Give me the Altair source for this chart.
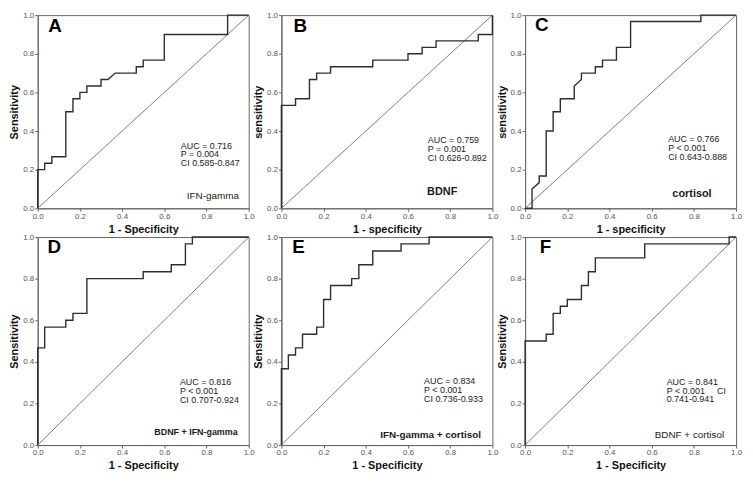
import altair as alt
import pandas as pd

FONT = "Liberation Sans"

# ---------------- data ----------------
letters = ["A", "B", "C", "D", "E", "F"]
x_titles = ["1 - Specificity", "1 - specificity", "1 - specificity",
            "1 - Specificity", "1 - Specificity", "1 - Specificity"]
y_titles = ["Sensitivity", "sensitivity", "sensitivity",
            "Sensitivity", "Sensitivity", "Sensitivity"]
markers = ["IFN-gamma", "BDNF", "cortisol",
           "BDNF + IFN-gamma", "IFN-gamma + cortisol", "BDNF + cortisol"]
auc_text = ["AUC = 0.716", "AUC = 0.759", "AUC = 0.766",
            "AUC = 0.816", "AUC = 0.834", "AUC = 0.841"]
p_text = ["P = 0.004", "P = 0.001", "P < 0.001",
          "P < 0.001", "P < 0.001", "P < 0.001"]
ci_text = ["CI 0.585-0.847", "CI 0.626-0.892", "CI 0.643-0.888",
           "CI 0.707-0.924", "CI 0.736-0.933", "0.741-0.941"]

A_fpr = [0, 0, 0.033, 0.033, 0.067, 0.067, 0.133, 0.133, 0.167, 0.167, 0.2, 0.2, 0.233, 0.233,
         0.3, 0.3, 0.333, 0.367, 0.467, 0.467, 0.5, 0.5, 0.6, 0.6, 0.9, 0.9, 1.0]
A_tpr = [0, 0.2, 0.2, 0.233, 0.233, 0.267, 0.267, 0.5, 0.5, 0.567, 0.567, 0.6, 0.6, 0.633,
         0.633, 0.667, 0.667, 0.7, 0.7, 0.733, 0.733, 0.767, 0.767, 0.9, 0.9, 1.0, 1.0]

B_fpr = [0, 0, 0.067, 0.067, 0.133, 0.133, 0.167, 0.167, 0.233, 0.233, 0.433, 0.433,
         0.6, 0.6, 0.667, 0.667, 0.733, 0.733, 0.933, 0.933, 1.0, 1.0]
B_tpr = [0, 0.533, 0.533, 0.567, 0.567, 0.667, 0.667, 0.7, 0.7, 0.733, 0.733, 0.767,
         0.767, 0.8, 0.8, 0.833, 0.833, 0.867, 0.867, 0.9, 0.9, 1.0]

C_fpr = [0, 0.033, 0.033, 0.067, 0.067, 0.1, 0.1, 0.133, 0.133, 0.167, 0.167, 0.233, 0.233,
         0.267, 0.267, 0.333, 0.333, 0.367, 0.367, 0.433, 0.433, 0.5, 0.5, 0.833, 0.833, 1.0]
C_tpr = [0, 0, 0.1, 0.133, 0.167, 0.167, 0.4, 0.4, 0.5, 0.5, 0.567, 0.567, 0.633,
         0.667, 0.7, 0.7, 0.733, 0.733, 0.767, 0.767, 0.833, 0.833, 0.967, 0.967, 1.0, 1.0]

D_fpr = [0, 0, 0.033, 0.033, 0.133, 0.133, 0.167, 0.167, 0.233, 0.233, 0.5, 0.5,
         0.633, 0.633, 0.7, 0.7, 0.733, 0.733, 1.0]
D_tpr = [0, 0.467, 0.467, 0.567, 0.567, 0.6, 0.6, 0.633, 0.633, 0.8, 0.8, 0.833,
         0.833, 0.867, 0.867, 0.967, 0.967, 1.0, 1.0]

E_fpr = [0, 0, 0.033, 0.033, 0.067, 0.067, 0.1, 0.1, 0.167, 0.167, 0.2, 0.2, 0.233, 0.233,
         0.333, 0.333, 0.367, 0.367, 0.433, 0.433, 0.567, 0.567, 0.7, 0.7, 1.0]
E_tpr = [0, 0.367, 0.367, 0.433, 0.433, 0.467, 0.467, 0.533, 0.533, 0.567, 0.567, 0.7, 0.7,
         0.767, 0.767, 0.8, 0.8, 0.867, 0.867, 0.933, 0.933, 0.967, 0.967, 1.0, 1.0]

F_fpr = [0, 0, 0.1, 0.1, 0.133, 0.133, 0.167, 0.167, 0.2, 0.2, 0.267, 0.267, 0.3, 0.3,
         0.333, 0.333, 0.567, 0.567, 0.967, 0.967, 1.0]
F_tpr = [0, 0.5, 0.5, 0.533, 0.533, 0.633, 0.633, 0.667, 0.667, 0.7, 0.7, 0.767, 0.767,
         0.833, 0.833, 0.9, 0.9, 0.967, 0.967, 1.0, 1.0]

fprs = [A_fpr, B_fpr, C_fpr, D_fpr, E_fpr, F_fpr]
tprs = [A_tpr, B_tpr, C_tpr, D_tpr, E_tpr, F_tpr]

# ---------------- layout / style (positions in data units) ----------------
W = 213
H = [195, 195, 195, 210, 210, 210]
letter_pos = [(0.05, 0.943), (0.057, 0.943), (0.047, 0.95),
              (0.046, 0.951), (0.051, 0.951), (0.069, 0.95)]
stat_pos = [(0.678, 0.325), (0.694, 0.355), (0.678, 0.359),
            (0.674, 0.301), (0.676, 0.308), (0.671, 0.305)]
marker_pos = [(0.83, 0.062), (0.762, 0.085), (0.791, 0.074),
              (0.75, 0.061), (0.707, 0.05), (0.779, 0.049)]
marker_size = [10, 11, 11, 9, 10, 10]
marker_weight = ["normal", "bold", "bold", "bold", "bold", "normal"]
TICKS = [0, 0.2, 0.4, 0.6, 0.8, 1.0]
STAT_FS = 9
LINE_PX = 9.0


def xenc(field, i):
    return alt.X(f"{field}:Q", scale=alt.Scale(domain=[0, 1], nice=False, zero=False),
                 axis=alt.Axis(title=x_titles[i], values=TICKS, format=".1f"))


def yenc(field, i):
    return alt.Y(f"{field}:Q", scale=alt.Scale(domain=[0, 1], nice=False, zero=False),
                 axis=alt.Axis(title=y_titles[i], values=TICKS, format=".1f"))


def panel(i):
    df = pd.DataFrame({"fpr": fprs[i], "tpr": tprs[i], "k": list(range(len(fprs[i])))})
    diag_df = pd.DataFrame({"fpr": [0, 1], "tpr": [0, 1]})
    diag = alt.Chart(diag_df).mark_line(color="#808080", strokeWidth=1).encode(
        x=xenc("fpr", i), y=yenc("tpr", i))
    curve = alt.Chart(df).mark_line(color="#2e2e2e", strokeWidth=1.4).encode(
        x=xenc("fpr", i), y=yenc("tpr", i), order="k:Q")

    step = LINE_PX / H[i]
    sx, sy = stat_pos[i]
    stats_df = pd.DataFrame({"fpr": [sx, sx, sx], "tpr": [sy, sy - step, sy - 2 * step],
                             "t": [auc_text[i], p_text[i], ci_text[i]]})
    stats = alt.Chart(stats_df).mark_text(align="left", baseline="middle", fontSize=STAT_FS,
                                          font=FONT, color="#1a1a1a").encode(
        x=xenc("fpr", i), y=yenc("tpr", i), text="t:N")

    mx, my = marker_pos[i]
    mk_df = pd.DataFrame({"fpr": [mx], "tpr": [my], "t": [markers[i]]})
    mk = alt.Chart(mk_df).mark_text(align="center", baseline="middle", fontSize=marker_size[i],
                                    fontWeight=marker_weight[i], font=FONT,
                                    color="#1a1a1a").encode(
        x=xenc("fpr", i), y=yenc("tpr", i), text="t:N")

    lx, ly = letter_pos[i]
    lt_df = pd.DataFrame({"fpr": [lx], "tpr": [ly], "t": [letters[i]]})
    lt = alt.Chart(lt_df).mark_text(align="left", baseline="middle", fontSize=19,
                                    fontWeight="bold", font=FONT, color="#000000").encode(
        x=xenc("fpr", i), y=yenc("tpr", i), text="t:N")

    layers = [diag, curve, stats, mk, lt]
    if i == 5:
        ci_df = pd.DataFrame({"fpr": [0.91], "tpr": [sy - step], "t": ["CI"]})
        layers.append(alt.Chart(ci_df).mark_text(align="left", baseline="middle",
                                                 fontSize=STAT_FS, font=FONT,
                                                 color="#1a1a1a").encode(
            x=xenc("fpr", i), y=yenc("tpr", i), text="t:N"))
    return alt.layer(*layers).properties(width=W, height=H[i])


chart = alt.concat(*[panel(i) for i in range(6)], columns=3,
                   spacing={"row": 29, "column": 33}, bounds="flush").properties(
    padding={"left": 0, "top": 0, "right": 2, "bottom": 0}
).configure_view(
    stroke="#666666", strokeWidth=1
).configure_axis(
    domainColor="#666666", tickColor="#666666", tickSize=3, grid=False,
    labelFontSize=8, labelColor="#555555", labelFont=FONT, labelPadding=1,
    labelFlush=False, labelOverlap=False,
    titleFont=FONT, titleFontSize=11, titleFontWeight="bold", titleColor="#111111",
    titlePadding=3
)

chart.save("out.html", embed_options={"renderer": "svg", "actions": False})
